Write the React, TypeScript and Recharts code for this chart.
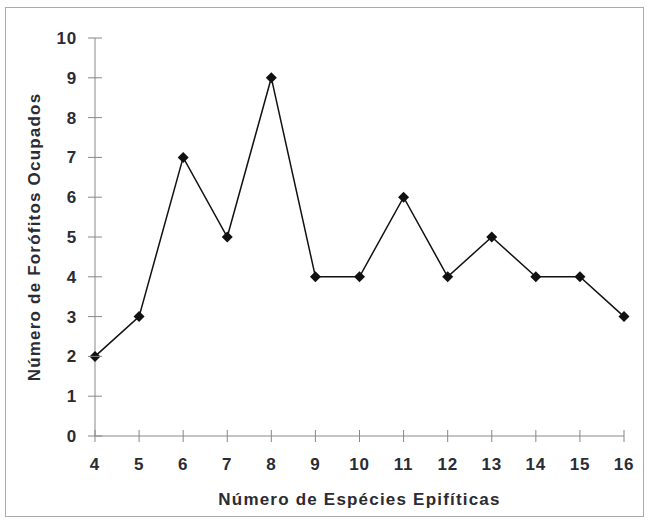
import React from 'react';
import { LineChart, Line, XAxis, YAxis } from 'recharts';

const especies = [4, 5, 6, 7, 8, 9, 10, 11, 12, 13, 14, 15, 16];
const forofitos = [2, 3, 7, 5, 9, 4, 4, 6, 4, 5, 4, 4, 3];
const yTicks = [0, 1, 2, 3, 4, 5, 6, 7, 8, 9, 10];

const data = especies.map((x, i) => ({ x, y: forofitos[i] }));

const FONT = '"Liberation Sans", Arial, sans-serif';
const TXT = '#2b2b33';

const YTick = (props: any) => {
  const { x, y, payload } = props;
  return (
    <g>
      <line x1={x - 7} x2={x + 7} y1={y} y2={y} stroke="#888" strokeWidth={1} />
      <text x={x - 18} y={y} dy={6} textAnchor="end" fontFamily={FONT} fontWeight="bold" fontSize={17} letterSpacing={0.8} fill={TXT}>
        {payload.value}
      </text>
    </g>
  );
};

const XTick = (props: any) => {
  const { x, y, payload } = props;
  return (
    <g>
      <line x1={x} x2={x} y1={y - 6} y2={y + 6} stroke="#888" strokeWidth={1} />
      <text x={x} y={y} dy={34} textAnchor="middle" fontFamily={FONT} fontWeight="bold" fontSize={17} letterSpacing={0.8} fill={TXT}>
        {payload.value}
      </text>
    </g>
  );
};

const Diamond = (props: any) => {
  const { cx, cy } = props;
  if (cx == null || cy == null) return null;
  const s = 5.5;
  return <polygon points={`${cx},${cy - s} ${cx + s},${cy} ${cx},${cy + s} ${cx - s},${cy}`} fill="#111" />;
};

export default function App() {
  return (
    <div style={{ position: 'absolute', left: 0, top: 0, width: 648, height: 524, background: '#fff' }}>
      <div style={{ position: 'absolute', left: 5, top: 7, width: 637, height: 508, border: '1px solid #aaa' }} />
      <div style={{ position: 'absolute', left: 0, top: 0 }}>
        <LineChart width={648} height={524} data={data} margin={{ top: 38, right: 24, left: 0, bottom: 0 }}>
          <XAxis
            dataKey="x"
            type="number"
            domain={[4, 16]}
            ticks={especies}
            interval={0}
            tickSize={0}
            tickMargin={0}
            tickLine={false}
            height={88}
            stroke="#888"
            tick={<XTick />}
            label={{ value: 'Número de Espécies Epifíticas', position: 'insideBottom', offset: 19, fontFamily: FONT, fontWeight: 'bold', fontSize: 17, letterSpacing: 1.2, fill: TXT }}
          />
          <YAxis
            type="number"
            domain={[0, 10]}
            ticks={yTicks}
            interval={0}
            width={95}
            tickSize={0}
            tickMargin={0}
            tickLine={false}
            stroke="#888"
            tick={<YTick />}
            label={{ value: 'Número de Forófitos Ocupados', angle: -90, position: 'center', dx: -14, fontFamily: FONT, fontWeight: 'bold', fontSize: 17, letterSpacing: 1.2, fill: TXT }}
          />
          <Line dataKey="y" stroke="#111" strokeWidth={1.5} dot={<Diamond />} activeDot={false} isAnimationActive={false} />
        </LineChart>
      </div>
    </div>
  );
}
